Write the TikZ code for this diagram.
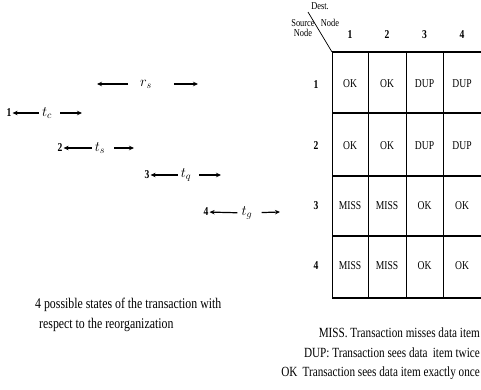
\documentclass[tikz,border=0pt]{standalone}
\usepackage{fontspec}
\setmainfont{Liberation Serif}[FakeStretch=0.8]
\usepackage{tikz}
\usetikzlibrary{arrows.meta}

\tikzset{
  arr/.style={-{Stealth[length=5pt,width=4.5pt]},line width=1.2pt},
  num/.style={font=\fontsize{12}{14}\selectfont\bfseries,inner sep=1pt},
  lbl/.style={font=\fontsize{14}{16}\selectfont,inner sep=0pt},
  cell/.style={font=\fontsize{12}{14}\selectfont,inner sep=1pt},
  head/.style={font=\fontsize{10.5}{12}\selectfont,inner sep=0pt,align=center},
  note/.style={font=\fontsize{14.8}{17}\selectfont,inner sep=0pt},
  hline/.style={line width=1.6pt},
  vline/.style={line width=0.7pt}
}

\begin{document}
\begin{tikzpicture}[x=1pt,y=-1pt]
  \useasboundingbox (0,0) rectangle (481,390);

  % reorganization interval
  \node[lbl] (rs) at (146,84) {$r_s$};
  \coordinate (rsa) at (97,84);
  \coordinate (rsb) at (198,84);
  \draw[arr,shorten <=12pt] (rs) -- (rsa);
  \draw[arr,shorten <=22pt] (rs) -- (rsb);

  % the four transactions
  \node[num] (n1) at (9,113) {1};
  \node[lbl] (l1) at (47,113) {$t_c$};
  \coordinate (e1) at (82,113);
  \draw[arr,shorten <=3pt] (l1) -- (n1);
  \draw[arr,shorten <=8pt] (l1) -- (e1);

  \node[num] (n2) at (60,148) {2};
  \node[lbl] (l2) at (100,148) {$t_s$};
  \coordinate (e2) at (134,148);
  \draw[arr,shorten <=3pt] (l2) -- (n2);
  \draw[arr,shorten <=9pt] (l2) -- (e2);

  \node[num] (n3) at (147,175) {3};
  \node[lbl] (l3) at (186,175) {$t_q$};
  \coordinate (e3) at (221,175);
  \draw[arr,shorten <=3pt] (l3) -- (n3);
  \draw[arr,shorten <=8pt] (l3) -- (e3);

  \node[num] (n4) at (206,212) {4};
  \node[lbl] (l4) at (247,213) {$t_g$};
  \coordinate (e4) at (280,212);
  \draw[arr,shorten <=4pt] (l4) -- (n4);
  \draw[arr,shorten <=9pt] (l4) -- (e4);

  % table
  \foreach \y in {52,113,176,236,298}
    \draw[hline] (332,\y) -- (481,\y);
  \foreach \x in {332,368,406,443}
    \draw[vline] (\x,52) -- (\x,298);
  \draw[vline] (308,12) -- (332,52);

  \node[head] (dest) at (320,6) {Dest.};
  \node[head] (dnode) at (330,23) {Node};
  \node[head] (src) at (303,28) {Source\\[-2pt]Node};

  \foreach \c/\x in {1/350,2/387,3/424.5,4/462}
    \node[num] (c\c) at (\x,35) {\c};
  \foreach \r/\y in {1/85,2/146,3/206,4/266}
    \node[num] (r\r) at (316,\y) {\r};

  \foreach \r/\y/\a/\b/\c/\d in {1/84/OK/OK/DUP/DUP,2/146/OK/OK/DUP/DUP,
                                 3/206/MISS/MISS/OK/OK,4/266/MISS/MISS/OK/OK}{
    \node[cell] (x\r1) at (350,\y) {\a};
    \node[cell] (x\r2) at (387,\y) {\b};
    \node[cell] (x\r3) at (424.5,\y) {\c};
    \node[cell] (x\r4) at (462,\y) {\d};
  }

  % captions
  \node[note,anchor=west] (cap1) at (35,305) {4 possible states of the transaction with};
  \node[note,anchor=west] (cap2) at (39,325) {respect to the reorganization};

  \node[note,anchor=east,font=\fontsize{14}{16}\selectfont] (miss) at (480,333) {MISS. Transaction misses data item};
  \node[note,anchor=east,font=\fontsize{14}{16}\selectfont] (dup) at (480,353) {DUP: Transaction sees data \,item twice};
  \node[note,anchor=east,font=\fontsize{14}{16}\selectfont] (ok) at (480,373) {OK \,Transaction sees data item exactly once};
\end{tikzpicture}
\end{document}
